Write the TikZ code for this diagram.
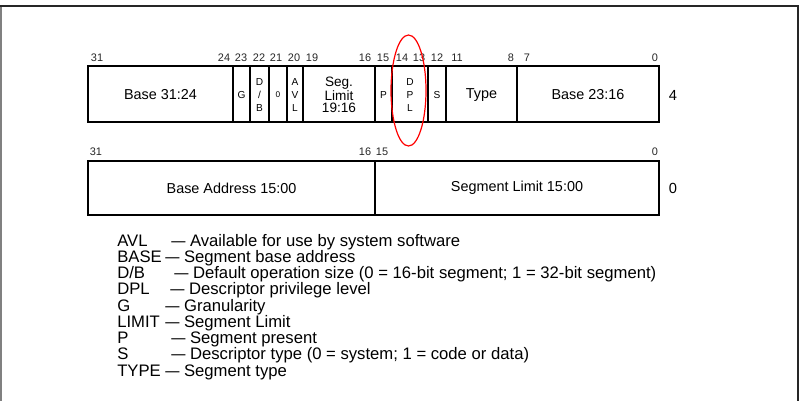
\documentclass[tikz,border=0pt]{standalone}
\usepackage{fontspec}
\usepackage{graphicx}
\setmainfont{Liberation Sans}
\usetikzlibrary{positioning}

\newcommand{\ldash}{\scalebox{0.85}[1]{—}}

\begin{document}
\begin{tikzpicture}[x=0.75pt,y=-0.75pt,
        cell/.style={draw=black,line width=1.3pt},
        bigtext/.style={font=\fontsize{10.8}{11}\selectfont,align=center,inner sep=0pt},
        segtext/.style={font=\fontsize{10.2}{9}\selectfont,align=center,inner sep=0pt},
        tinytext/.style={font=\fontsize{7.6}{9.4}\selectfont,align=center,inner sep=0pt},
        nulltext/.style={font=\fontsize{6.2}{7}\selectfont,inner sep=0pt},
        bitno/.style={font=\fontsize{8.2}{9}\selectfont,text=black!85,inner sep=0pt},
        wordno/.style={font=\fontsize{11}{12}\selectfont,inner sep=0pt},
        legend/.style={font=\fontsize{12.5}{14}\selectfont,anchor=base west,inner sep=0pt}]

    \useasboundingbox (0,0) rectangle (802,401);
    % frame
    \draw[line width=1.1pt,black!50] (1,6) -- (1,401);
    \draw[line width=1.8pt,black!85] (0,6) -- (798,6) -- (798,401);

    % upper word
    \foreach \a/\b/\t/\s/\n in {88/233/{Base 31:24}/bigtext/base3124, 233/250/G/tinytext/g,
            250/269/{D\\/\\B}/tinytext/db, 269/287/0/nulltext/zero, 287/303/{A\\V\\L}/tinytext/avl,
            303/375/{Seg.\\Limit\\19:16}/segtext/limit, 375/392/P/tinytext/p, 392/428/{D\\P\\L}/tinytext/dpl,
            428/446/S/tinytext/s, 446/517/Type/bigtext/type, 517/659/{Base 23:16}/bigtext/base2316}
    {
        \draw[cell] (\a,66) rectangle (\b,122);
        \node[\s] (\n) at ({(\a+\b)/2},95) {\t};
    }
    \foreach \x/\t in {97/31, 224/24, 241/23, 259/22, 276/21, 294/20, 312/19, 365/16,
            383/15, 402/14, 419/13, 437/12, 457/11, 511/8, 527/7, 655/0}
        \node[bitno] at (\x,57.5) {\t};
    \node[wordno] (w4) at (673,95) {4};

    % lower word
    \draw[cell] (88,161) rectangle (375,215);
    \draw[cell] (375,161) rectangle (659,215);
    \node[bigtext] (baselo) at (231.5,188) {Base Address 15:00};
    \node[bigtext] (limlo) at (517,188) {Segment Limit 15:00};
    \foreach \x/\t in {96/31, 365/16, 382/15, 655/0}
        \node[bitno] at (\x,152) {\t};
    \node[wordno] (w0) at (673,188) {0};

    % DPL mark
    \draw[red,line width=0.9pt] (408.5,90.5) ellipse [x radius=17.5, y radius=55.5];

    % legend
    \foreach \k/\d/\t [count=\i from 0] in {AVL/171/{Available for use by system software},
            BASE/165/{Segment base address},
            {D/B}/174/{Default operation size (0 = 16-bit segment; 1 = 32-bit segment)},
            DPL/170/{Descriptor privilege level},
            G/165/{Granularity},
            LIMIT/165/{Segment Limit},
            P/171/{Segment present},
            S/171/{Descriptor type (0 = system; 1 = code or data)},
            TYPE/165/{Segment type}}
    {
        \node[legend] (key\i) at (117,{246+16.25*\i}) {\k};
        \node[legend] (desc\i) at (\d,{246+16.25*\i}) {\ldash{} \t};
    }
\end{tikzpicture}
\end{document}
